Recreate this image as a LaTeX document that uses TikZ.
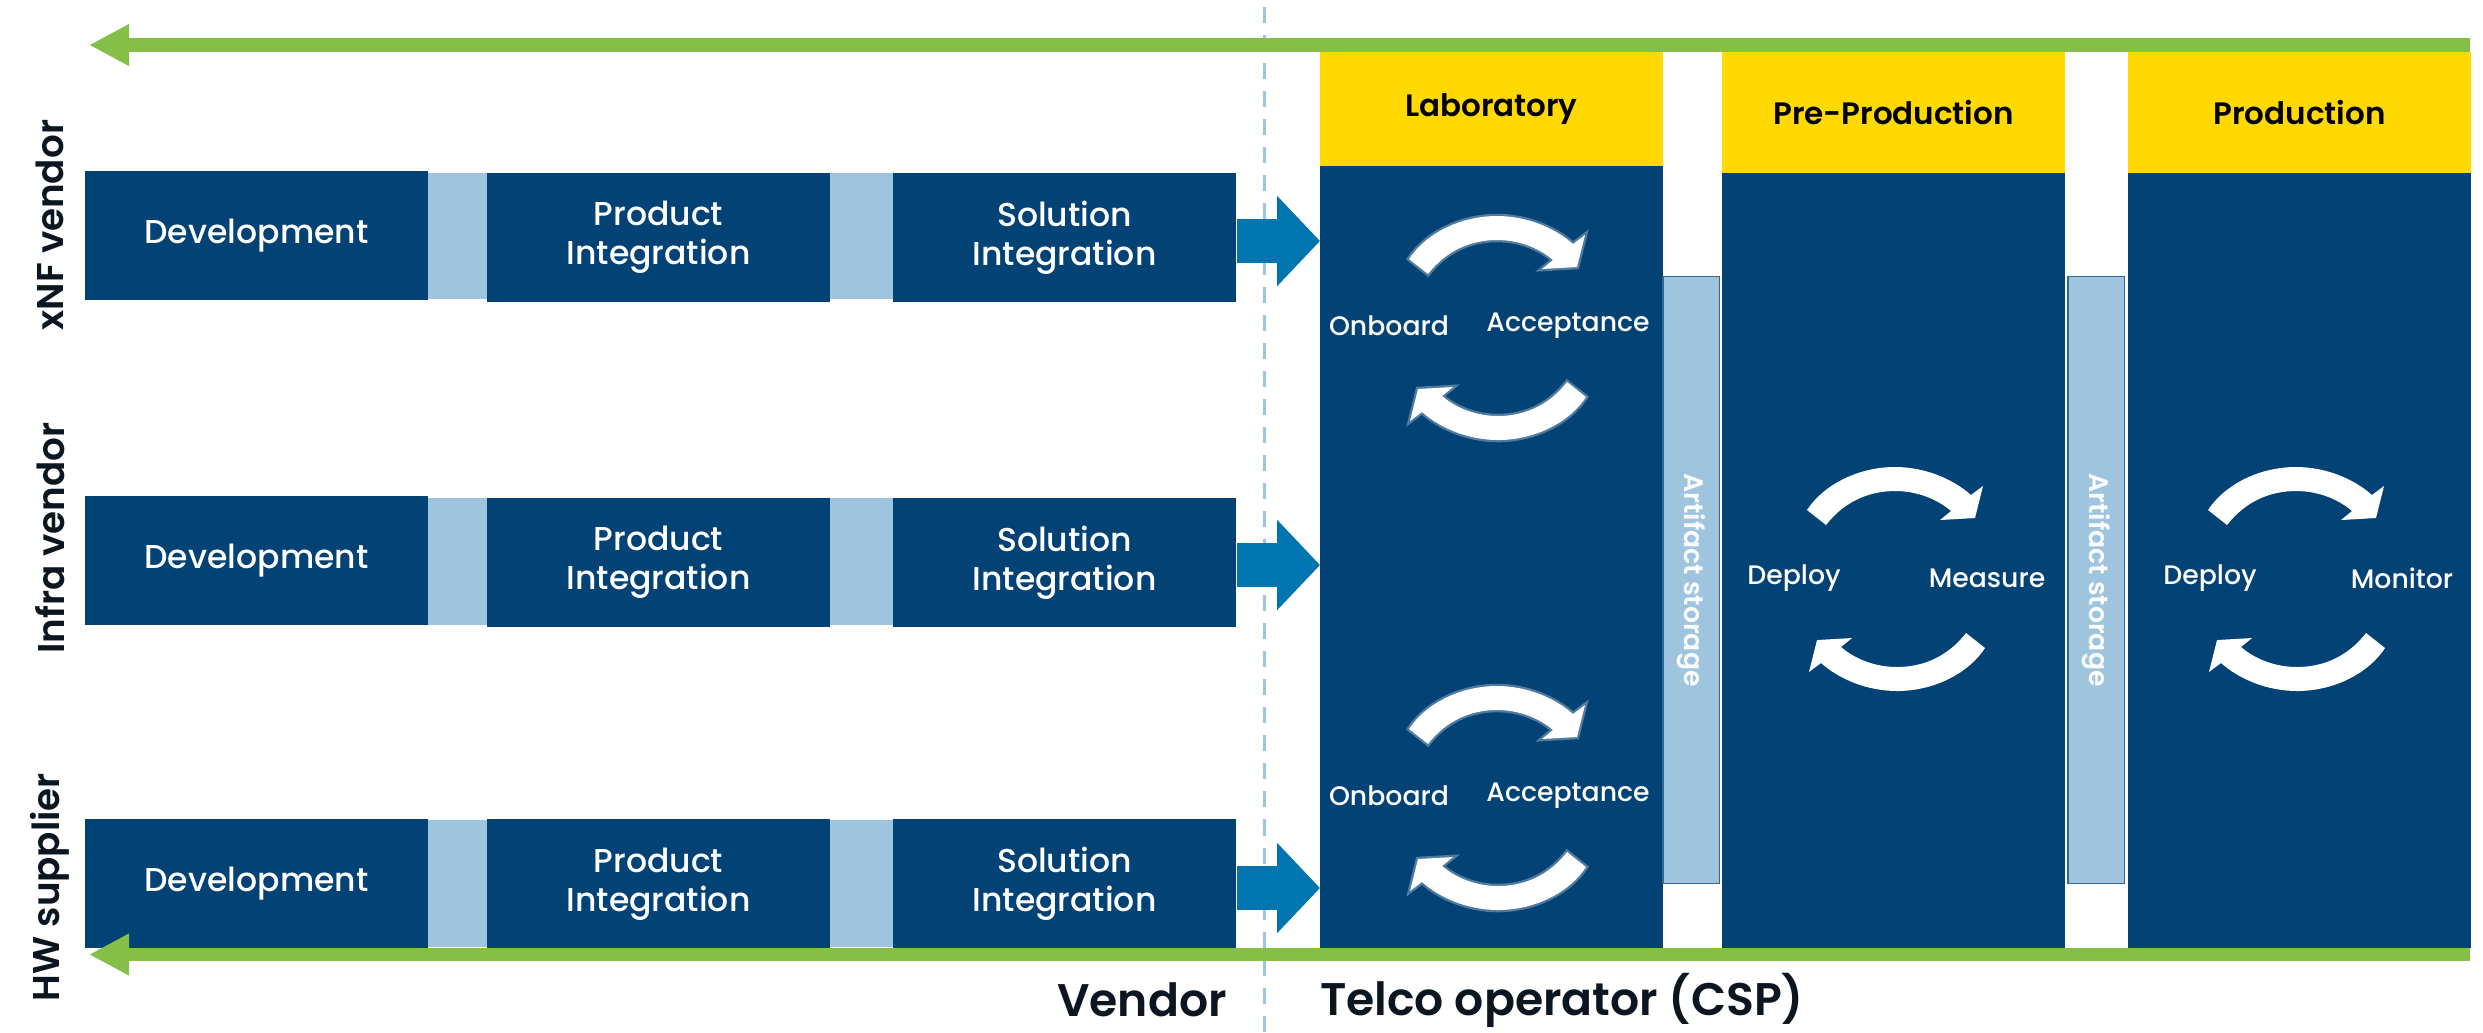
\documentclass[tikz,border=0pt]{standalone}
\usepackage{fontspec}
\setmainfont{Poppins}
\newfontfamily\medfont{Poppins Medium}
\newfontfamily\semifont{Poppins SemiBold}
\usetikzlibrary{arrows.meta}
\definecolor{boxblue}{HTML}{034275}
\definecolor{barblue}{HTML}{9FC5DE}
\definecolor{flowgreen}{HTML}{86BF48}
\definecolor{headyellow}{HTML}{FFD900}
\definecolor{handblue}{HTML}{0075B0}
\definecolor{nearblack}{HTML}{0B1620}
\newcommand{\cyclepath}{(-88,43) .. controls (-70,16) and (-35,0) .. (0,0) .. controls (30,0) and (58,12) .. (76,28) -- (88,19) -- (80,51) -- (45,53) -- (56,44) .. controls (42,32) and (22,24) .. (0,24) .. controls (-28,24) and (-52,36) .. (-69,58) -- cycle}
\tikzset{
	stagebox/.style={fill=boxblue, text=white, inner sep=0pt, minimum width=3.43cm, minimum height=1.29cm, align=center, font=\medfont\fontsize{9.4}{11.2}\selectfont},
	linkbar/.style={fill=barblue, inner sep=0pt, minimum height=1.26cm},
	colbody/.style={fill=boxblue, inner sep=0pt, minimum width=3.43cm},
	colhead/.style={fill=headyellow, inner sep=0pt, minimum width=3.43cm, text=black, font=\semifont\fontsize{8.8}{10}\selectfont},
	storagebar/.style={fill=barblue, draw=boxblue!70!barblue, line width=0.3pt, rotate=-90, inner sep=0pt, minimum width=6.06cm, minimum height=0.56cm, text=white!95!barblue, font=\semifont\fontsize{7.6}{9}\selectfont},
	steplabel/.style={text=white, inner sep=0pt, font=\medfont\fontsize{7.6}{9}\selectfont},
	rowlabel/.style={rotate=90, text=nearblack, inner sep=0pt, font=\semifont\fontsize{10.6}{12}\selectfont},
	sidelabel/.style={text=nearblack, inner sep=0pt, font=\semifont\fontsize{13}{15}\selectfont},
	greenline/.style={draw=flowgreen, line width=0.135cm, -{Triangle[length=0.4cm,width=0.39cm]}},
	handover/.style={draw=handblue, line width=0.44cm, -{Triangle[length=0.43cm,width=0.88cm]}},
	cyclearrow/.pic={\fill[white] \cyclepath;},
	glowarrow/.pic={\draw[white, opacity=0.3, line width=1.3pt] \cyclepath; \fill[white] \cyclepath;}
}
\begin{document}
\begin{tikzpicture}[x=0.01cm,y=-0.01cm]
	\useasboundingbox (0,0) rectangle (2483,1032);
	% border between the two sides
	\coordinate (bordertop) at (1264,7);
	\coordinate (borderend) at (1264,1032);
	\draw [barblue, line width=0.03cm, dash pattern=on 0.16cm off 0.12cm] (bordertop) to (borderend);
	% vendor rows
	\node [stagebox] (devA) at (256.5,235.5) {Development};
	\node [stagebox] (devB) at (256.5,560.5) {Development};
	\node [stagebox] (devC) at (256.5,883.5) {Development};
	\node [stagebox] (prodA) at (658.5,237.5) {Product\\Integration};
	\node [stagebox] (prodB) at (658.5,562.5) {Product\\Integration};
	\node [stagebox] (prodC) at (658.5,884) {Product\\Integration};
	\node [stagebox] (solA) at (1064.5,237.5) {Solution\\Integration};
	\node [stagebox] (solB) at (1064.5,562.5) {Solution\\Integration};
	\node [stagebox] (solC) at (1064.5,884) {Solution\\Integration};
	\node [linkbar, minimum width=0.59cm] (linkAa) at (457.5,236) {};
	\node [linkbar, minimum width=0.59cm] (linkBa) at (457.5,561.5) {};
	\node [linkbar, minimum width=0.59cm] (linkCa) at (457.5,883.5) {};
	\node [linkbar, minimum width=0.63cm] (linkAb) at (861.5,236) {};
	\node [linkbar, minimum width=0.63cm] (linkBb) at (861.5,561.5) {};
	\node [linkbar, minimum width=0.63cm] (linkCb) at (861.5,883.5) {};
	\node [rowlabel] (rowA) at (50,225) {xNF vendor};
	\node [rowlabel] (rowB) at (50,538) {Infra vendor};
	\node [rowlabel] (rowC) at (50,887) {HW supplier};
	% operator columns
	\node [colbody, minimum height=7.82cm] (labbody) at (1491.5,557) {};
	\node [colbody, minimum height=7.75cm] (prebody) at (1893.5,560.5) {};
	\node [colbody, minimum height=7.75cm] (runbody) at (2299.5,560.5) {};
	\node [colhead, minimum height=1.14cm] (labhead) at (1491.5,109) {Laboratory};
	\node [colhead, minimum height=1.21cm] (prehead) at (1893.5,112.5) {Pre-Production};
	\node [colhead, minimum height=1.21cm] (runhead) at (2299.5,112.5) {Production};
	\node [storagebar] (storeA) at (1691,580) {Artifact storage};
	\node [storagebar] (storeB) at (2096,580) {Artifact storage};
	% hand over arrows
	\coordinate (handA) at (1320,241);
	\coordinate (handB) at (1320,565);
	\coordinate (handC) at (1320,888);
	\draw [handover] (handA -| solA.east) to (handA);
	\draw [handover] (handB -| solB.east) to (handB);
	\draw [handover] (handC -| solC.east) to (handC);
	% loops
	\pic at (1497,216) {glowarrow};
	\pic [rotate=180] at (1498,440) {glowarrow};
	\pic at (1497,686) {glowarrow};
	\pic [rotate=180] at (1498,910) {glowarrow};
	\pic at (1895,467) {cyclearrow};
	\pic [rotate=180] at (1897,691) {cyclearrow};
	\pic at (2296,467) {cyclearrow};
	\pic [rotate=180] at (2297,691) {cyclearrow};
	\node [steplabel] (onbA) at (1389,326) {Onboard};
	\node [steplabel] (accA) at (1568,326) {Acceptance};
	\node [steplabel] (onbB) at (1389,796) {Onboard};
	\node [steplabel] (accB) at (1568,796) {Acceptance};
	\node [steplabel] (depA) at (1794,578) {Deploy};
	\node [steplabel] (meas) at (1987,578) {Measure};
	\node [steplabel] (depB) at (2210,578) {Deploy};
	\node [steplabel] (moni) at (2402,578) {Monitor};
	% feedback lines
	\coordinate (topright) at (2470,45);
	\coordinate (topleft) at (89,45);
	\coordinate (lowright) at (2470,954.5);
	\coordinate (lowleft) at (89,954.5);
	\draw [greenline] (topright) to (topleft);
	\draw [greenline] (lowright) to (lowleft);
	\node [sidelabel] (vendor) at (1142,1000) {Vendor};
	\node [sidelabel] (telco) at (1562,1000) {Telco operator (CSP)};
\end{tikzpicture}
\end{document}
